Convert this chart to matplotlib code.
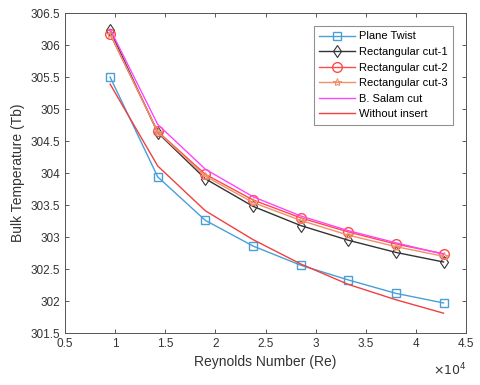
import matplotlib
matplotlib.use("Agg")
import matplotlib.pyplot as plt

plt.rcParams['font.family'] = ['Liberation Sans', 'DejaVu Sans']

re = [9500, 14250, 19000, 23750, 28500, 33250, 38000, 42750]
plane_twist = [305.50, 303.94, 303.26, 302.86, 302.56, 302.33, 302.12, 301.97]
rect_cut1 = [306.23, 304.63, 303.91, 303.48, 303.18, 302.95, 302.76, 302.61]
rect_cut2 = [306.17, 304.65, 303.98, 303.58, 303.30, 303.08, 302.89, 302.74]
rect_cut3 = [306.18, 304.64, 303.95, 303.54, 303.26, 303.03, 302.85, 302.70]
salam_cut = [306.25, 304.76, 304.06, 303.63, 303.33, 303.10, 302.91, 302.73]
without = [305.39, 304.11, 303.41, 302.96, 302.58, 302.26, 302.02, 301.81]

xticks = [5000, 10000, 15000, 20000, 25000, 30000, 35000, 40000, 45000]
xticklabels = ['0.5', '1', '1.5', '2', '2.5', '3', '3.5', '4', '4.5']
yticks = [301.5, 302, 302.5, 303, 303.5, 304, 304.5, 305, 305.5, 306, 306.5]
yticklabels = ['301.5', '302', '302.5', '303', '303.5', '304', '304.5', '305', '305.5', '306', '306.5']

fig = plt.figure(figsize=(4.8, 3.85), dpi=100)
ax = fig.add_axes([0.1354, 0.135, 0.8356, 0.831])

ax.plot(re, plane_twist, color='#4a9fd8', lw=1, marker='s', ms=5.5, mfc='none', mew=1, label='Plane Twist')
ax.plot(re, rect_cut1, color='#333333', lw=1, marker='d', ms=6.5, mfc='none', mew=0.8, label='Rectangular cut-1')
ax.plot(re, rect_cut2, color='#ff4a4a', lw=1, marker='o', ms=7, mfc='none', mew=1, label='Rectangular cut-2')
ax.plot(re, rect_cut3, color='#f0906a', lw=1, marker='*', ms=6, mfc='none', mew=0.8, label='Rectangular cut-3')
ax.plot(re, salam_cut, color='#ff44ff', lw=1, label='B. Salam cut')
ax.plot(re, without, color='#f04040', lw=1, label='Without insert')

ax.set_xlim(5000, 45000)
ax.set_ylim(301.5, 306.5)
ax.set_xticks(xticks)
ax.set_xticklabels(xticklabels)
ax.set_yticks(yticks)
ax.set_yticklabels(yticklabels)

ax.tick_params(direction='in', top=True, right=True, labelsize=8.5, colors='#404040', length=3, width=0.6, labelcolor='#333333')
for s in ax.spines.values():
    s.set_color('#555555')
    s.set_linewidth(0.7)

ax.set_xlabel('Reynolds Number (Re)', fontsize=10, color='#333333', labelpad=4)
ax.set_ylabel('Bulk Temperature (Tb)', fontsize=10, color='#333333', labelpad=4)

ax.text(1.0, -0.09, r'$\times10^4$', transform=ax.transAxes, ha='right', va='top', fontsize=9, color='#333333')

leg = ax.legend(loc='upper right', fontsize=8, frameon=True, fancybox=False, borderaxespad=1.15,
                handlelength=3.2, labelspacing=0.5, borderpad=0.5, handletextpad=0.4)
leg.get_frame().set_edgecolor('#777777')
leg.get_frame().set_linewidth(0.8)

fig.savefig('out.png', dpi=100)
